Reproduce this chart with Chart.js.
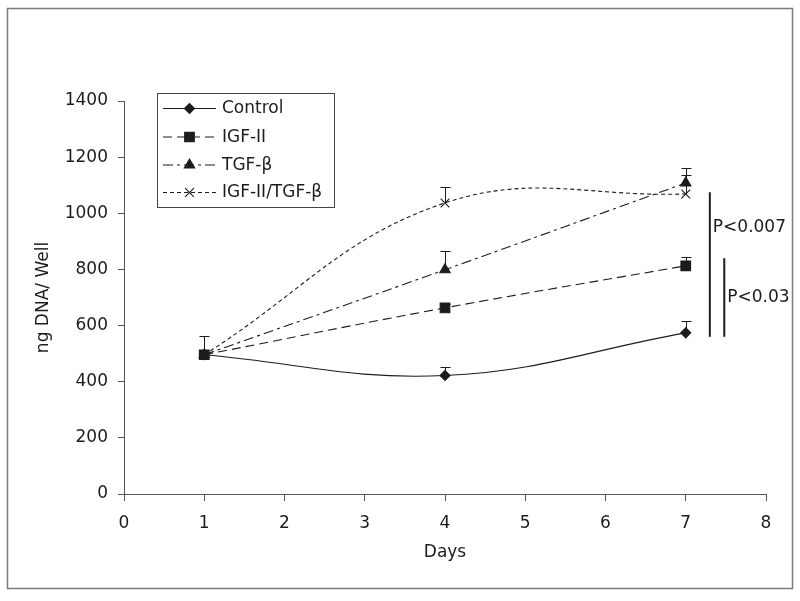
<!DOCTYPE html>
<html>
<head>
<meta charset="utf-8">
<script src="https://cdn.jsdelivr.net/npm/chart.js@4.4.1/dist/chart.umd.min.js"></script>
<style>
  html, body { margin: 0; padding: 0; background: #fff; }
  #wrap { width: 800px; height: 601px; }
</style>
</head>
<body>
<div id="wrap"><canvas id="chart" width="800" height="601"></canvas></div>
<script>
'use strict';

// ── DATA ─────────────────────────────────────────────────────────────────────
const days = [1, 4, 7];
const seriesNames = ['Control', 'IGF-II', 'TGF-\u03b2', 'IGF-II/TGF-\u03b2'];
const control  = [496, 422, 574];
const igf2     = [496, 663, 813];
const tgfb     = [496, 799, 1108];
const igf2Tgfb = [496, 1037, 1069];
// upper end of the error bars (only the + side is shown)
const controlErr  = [563, 452, 616];
const igf2Err     = [null, 678, 845];
const tgfbErr     = [null, 866, 1161];
const igf2TgfbErr = [null, 1094, 1136];
const xTickValues = [0, 1, 2, 3, 4, 5, 6, 7, 8];
const yTickValues = [0, 200, 400, 600, 800, 1000, 1200, 1400];
// significance brackets on the right
const pLabels    = ['P<0.007', 'P<0.03'];
const pBarX      = [7.30, 7.48];
const pBarTop    = [1075, 840];
const pBarBottom = [560, 560];
const pLabelY    = [950, 698];

// ── STYLE ────────────────────────────────────────────────────────────────────
const FONT = 'DejaVu Sans, sans-serif';
const INK = '#1c1c1c';
const AXIS = '#555';

const styles = [
  { dash: [],            point: 'rectRot',  radius: 5   },
  { dash: [9, 5],        point: 'rect',     radius: 6.8 },
  { dash: [10, 4, 3, 4], point: 'triangle', radius: 6   },
  { dash: [4, 3],        point: 'crossRot', radius: 6.2 },
];
const seriesValues = [control, igf2, tgfb, igf2Tgfb];
const seriesErrors = [controlErr, igf2Err, tgfbErr, igf2TgfbErr];

const datasets = seriesNames.map((name, i) => ({
  label: name,
  data: days.map((d, j) => ({ x: d, y: seriesValues[i][j] })),
  borderColor: INK,
  backgroundColor: INK,
  borderWidth: 1.1,
  borderDash: styles[i].dash,
  pointStyle: styles[i].point,
  pointRadius: styles[i].radius,
  pointBorderWidth: 1.1,
  pointBackgroundColor: INK,
  pointBorderColor: INK,
  tension: 0.4,
  order: i === 1 ? -1 : i,
  errors: seriesErrors[i],
}));

// ── PLUGINS ──────────────────────────────────────────────────────────────────
const framePlugin = {
  id: 'frame',
  beforeDraw(chart) {
    const c = chart.ctx;
    c.save();
    c.fillStyle = '#fff';
    c.fillRect(0, 0, chart.width, chart.height);
    c.strokeStyle = '#7a7a7a';
    c.lineWidth = 1.5;
    c.strokeRect(7.5, 8.5, 785, 580);
    c.restore();
  },
};

const errorBarPlugin = {
  id: 'errorBars',
  beforeDatasetsDraw(chart) {
    const c = chart.ctx;
    const xs = chart.scales.x, ys = chart.scales.y;
    c.save();
    c.strokeStyle = INK;
    c.lineWidth = 1;
    chart.data.datasets.forEach(ds => {
      ds.errors.forEach((e, j) => {
        if (e == null) return;
        const px = Math.round(xs.getPixelForValue(ds.data[j].x)) + 0.5;
        const py = ys.getPixelForValue(ds.data[j].y);
        const pe = Math.round(ys.getPixelForValue(e)) + 0.5;
        c.beginPath();
        c.moveTo(px, py);
        c.lineTo(px, pe);
        c.moveTo(px - 5, pe);
        c.lineTo(px + 5, pe);
        c.stroke();
      });
    });
    c.restore();
  },
};

const pValuePlugin = {
  id: 'pValues',
  afterDatasetsDraw(chart) {
    const c = chart.ctx;
    const xs = chart.scales.x, ys = chart.scales.y;
    c.save();
    c.strokeStyle = INK;
    c.fillStyle = INK;
    c.lineWidth = 2;
    c.font = '17px ' + FONT;
    c.textAlign = 'left';
    c.textBaseline = 'middle';
    pLabels.forEach((txt, i) => {
      const px = xs.getPixelForValue(pBarX[i]);
      c.beginPath();
      c.moveTo(px, ys.getPixelForValue(pBarTop[i]));
      c.lineTo(px, ys.getPixelForValue(pBarBottom[i]));
      c.stroke();
      c.fillText(txt, px + 3, ys.getPixelForValue(pLabelY[i]));
    });
    c.restore();
  },
};

const legendPlugin = {
  id: 'boxLegend',
  afterDraw(chart) {
    const c = chart.ctx;
    const box = { x: 157.5, y: 93.5, w: 177, h: 114 };
    const rowY = [108, 136.5, 164.5, 192];
    c.save();
    c.strokeStyle = '#444';
    c.lineWidth = 1;
    c.strokeRect(box.x, box.y, box.w, box.h);
    c.font = '17px ' + FONT;
    c.textBaseline = 'middle';
    c.textAlign = 'left';
    chart.data.datasets.forEach((ds, i) => {
      const y = rowY[i] + 0.5;
      c.strokeStyle = INK;
      c.fillStyle = INK;
      c.lineWidth = 1.1;
      c.setLineDash(ds.borderDash);
      c.beginPath();
      c.moveTo(163, y);
      c.lineTo(216, y);
      c.stroke();
      c.setLineDash([]);
      Chart.helpers.drawPoint(c, {
        pointStyle: ds.pointStyle,
        radius: ds.pointRadius,
        borderWidth: 1.1,
        rotation: 0,
      }, 189.5, y);
      c.fillText(ds.label, 222, rowY[i] + 1);
    });
    c.restore();
  },
};

// ── CHART ────────────────────────────────────────────────────────────────────
new Chart(document.getElementById('chart'), {
  type: 'line',
  data: { datasets },
  plugins: [framePlugin, errorBarPlugin, pValuePlugin, legendPlugin],
  options: {
    responsive: false,
    animation: false,
    devicePixelRatio: 1,
    layout: { padding: { top: 101, right: 34, bottom: 38, left: 0 } },
    plugins: { legend: { display: false }, tooltip: { enabled: false } },
    scales: {
      x: {
        type: 'linear',
        min: 0, max: 8,
        afterBuildTicks: s => { s.ticks = xTickValues.map(v => ({ value: v })); },
        afterFit: s => { s.height = 69; },
        ticks: { color: INK, padding: 12, font: { family: FONT, size: 17 },
                 callback: v => String(v) },
        grid: { drawOnChartArea: false, tickLength: 7, color: AXIS },
        border: { color: AXIS, width: 1 },
        title: { display: true, text: 'Days', color: INK, padding: 0,
                 font: { family: FONT, size: 17 } },
      },
      y: {
        type: 'linear',
        min: 0, max: 1400,
        afterBuildTicks: s => { s.ticks = yTickValues.map(v => ({ value: v })); },
        afterFit: s => { s.width = 124; },
        ticks: { color: INK, padding: 10, font: { family: FONT, size: 17 },
                 callback: v => String(v) },
        grid: { drawOnChartArea: false, tickLength: 6, color: AXIS },
        border: { color: AXIS, width: 1 },
        title: { display: true, text: 'ng DNA/ Well', color: INK,
                 padding: { top: 33, bottom: 0 }, font: { family: FONT, size: 17 } },
      },
    },
  },
});
</script>
</body>
</html>
